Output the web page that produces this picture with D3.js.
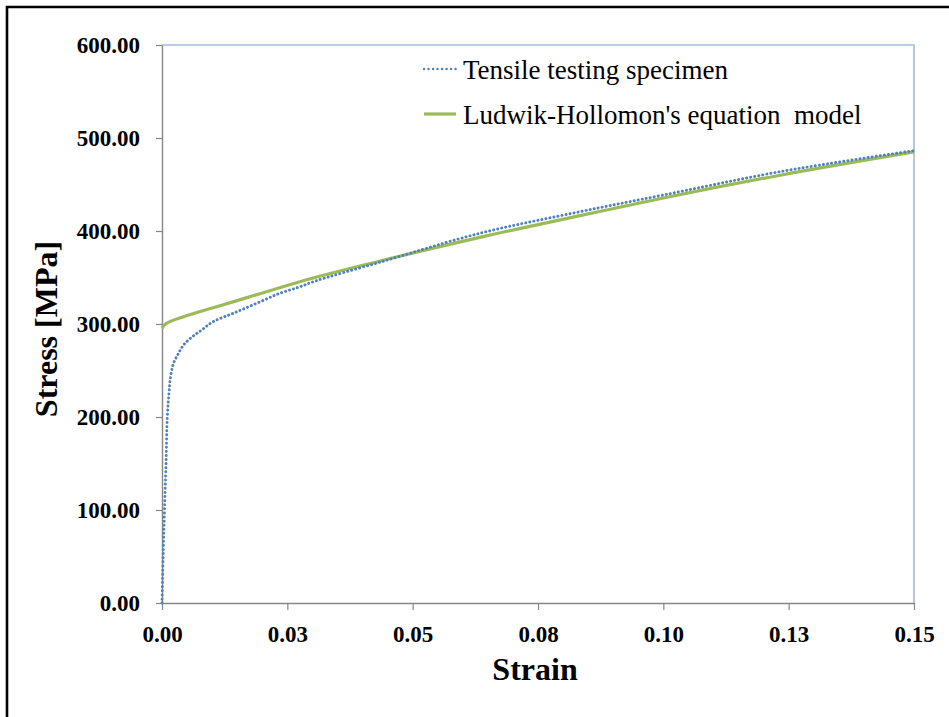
<!DOCTYPE html>
<html>
<head>
<meta charset="utf-8">
<script src="https://cdn.jsdelivr.net/npm/d3@7"></script>
<style>
  html, body { margin: 0; padding: 0; background: #ffffff; }
  svg { display: block; }
</style>
</head>
<body>
<script>
// Measured stress–strain points of the tensile specimen: [strain, stress in MPa]
const specimenStrain = [0, 0.00026, 0.0005, 0.0008, 0.00106, 0.0014, 0.0017, 0.0023, 0.0033, 0.0043,
  0.0059, 0.0079, 0.0102, 0.0142, 0.0189, 0.0235, 0.0275, 0.0308, 0.0435, 0.0634, 0.0834, 0.1, 0.1233, 0.15];
const specimenStress = [0, 57, 100, 150, 200, 226, 243, 257.7, 268.5, 277.4,
  285.7, 293.5, 302.5, 311.5, 322.3, 333, 340, 346.6, 366.5, 397.5, 420.8, 438.7, 463.8, 486.4];

// Ludwik-Hollomon model curve points
const modelStrain = [0, 0.0005, 0.0016, 0.0043, 0.0109, 0.0176, 0.0275, 0.0435, 0.0634, 0.0834, 0.1, 0.1233, 0.15];
const modelStress = [295.4, 299, 302.5, 307.8, 318.6, 329.4, 345.5, 367.7, 393.2, 416.5, 435.5, 460, 485];

// Axis ticks
const xTickValues = [0, 0.025, 0.05, 0.075, 0.1, 0.125, 0.15];
const xTickLabels = ["0.00", "0.03", "0.05", "0.08", "0.10", "0.13", "0.15"];
const yTickValues = [0, 100, 200, 300, 400, 500, 600];
const yTickLabels = ["0.00", "100.00", "200.00", "300.00", "400.00", "500.00", "600.00"];

const seriesNames = ["Tensile testing specimen", "Ludwik-Hollomon's equation  model"];

const W = 949, H = 717;
const plot = { left: 162, right: 914, top: 45, bottom: 603 };
const blue = "#4F81BD", green = "#9BBB59", axisGrey = "#868686", frameBlue = "#A3BCDD";
const serif = "'Liberation Serif', 'Times New Roman', serif";

const svg = d3.select("body").append("svg")
  .attr("width", W).attr("height", H);

svg.append("rect").attr("width", W).attr("height", H).attr("fill", "#fff");

// Outer frame (top and left edges)
svg.append("path")
  .attr("d", `M7,${H} L7,7 L${W},7`)
  .attr("fill", "none").attr("stroke", "#000").attr("stroke-width", 2.6);

const x = d3.scaleLinear().domain([0, 0.15]).range([plot.left, plot.right]);
const y = d3.scaleLinear().domain([0, 600]).range([plot.bottom, plot.top]);

// Plot area top and right borders
svg.append("path")
  .attr("d", `M${plot.left},${plot.top} L${plot.right},${plot.top} L${plot.right},${plot.bottom}`)
  .attr("fill", "none").attr("stroke", frameBlue).attr("stroke-width", 1.6);

// Axes
const xAxis = d3.axisBottom(x).tickValues(xTickValues)
  .tickFormat((d, i) => xTickLabels[i]).tickSize(7).tickPadding(16).tickSizeOuter(0);
const yAxis = d3.axisLeft(y).tickValues(yTickValues)
  .tickFormat((d, i) => yTickLabels[i]).tickSize(6).tickPadding(16).tickSizeOuter(0);

const gx = svg.append("g").attr("transform", `translate(0,${plot.bottom})`).call(xAxis);
const gy = svg.append("g").attr("transform", `translate(${plot.left},0)`).call(yAxis);

[gx, gy].forEach(g => {
  g.select(".domain").attr("stroke", axisGrey).attr("stroke-width", 1.4);
  g.selectAll(".tick line").attr("stroke", axisGrey).attr("stroke-width", 1.2);
  g.selectAll(".tick text")
    .attr("fill", "#000")
    .style("font-family", serif)
    .style("font-weight", "bold")
    .style("font-size", "23px");
});

// Series lines
const specimen = specimenStrain.map((s, i) => [s, specimenStress[i]]);
const model = modelStrain.map((s, i) => [s, modelStress[i]]);

const line = d3.line()
  .x(d => x(d[0])).y(d => y(d[1]))
  .curve(d3.curveMonotoneX);

const lineSpecimen = d3.line()
  .x(d => x(d[0])).y(d => y(d[1]))
  .curve(d3.curveCatmullRom.alpha(0.5));

svg.append("path")
  .datum(model)
  .attr("d", line)
  .attr("fill", "none")
  .attr("stroke", green)
  .attr("stroke-width", 3.2);

svg.append("path")
  .datum(specimen)
  .attr("d", lineSpecimen)
  .attr("fill", "none")
  .attr("stroke", blue)
  .attr("stroke-width", 2.9)
  .attr("stroke-linecap", "round")
  .attr("stroke-dasharray", "0.1 4");

// Axis titles
svg.append("text")
  .attr("x", 535).attr("y", 680)
  .attr("text-anchor", "middle")
  .style("font-family", serif).style("font-weight", "bold").style("font-size", "32px")
  .text("Strain");

svg.append("text")
  .attr("transform", "translate(57,329) rotate(-90)")
  .attr("text-anchor", "middle")
  .style("font-family", serif).style("font-weight", "bold").style("font-size", "32px")
  .text("Stress [MPa]");

// Legend
const legend = svg.append("g");
const legendRows = [
  { name: seriesNames[0], y: 69, color: blue, dash: "0.1 4.4", width: 2.4 },
  { name: seriesNames[1], y: 114, color: green, dash: null, width: 3.2 }
];
legendRows.forEach(r => {
  legend.append("line")
    .attr("x1", 424).attr("x2", 456)
    .attr("y1", r.y).attr("y2", r.y)
    .attr("stroke", r.color)
    .attr("stroke-width", r.width)
    .attr("stroke-linecap", r.dash ? "round" : "butt")
    .attr("stroke-dasharray", r.dash);
  legend.append("text")
    .attr("x", 463).attr("y", r.y + 10)
    .style("font-family", serif).style("font-size", "27px")
    .style("white-space", "pre")
    .attr("fill", "#000")
    .text(r.name);
});
</script>
</body>
</html>
